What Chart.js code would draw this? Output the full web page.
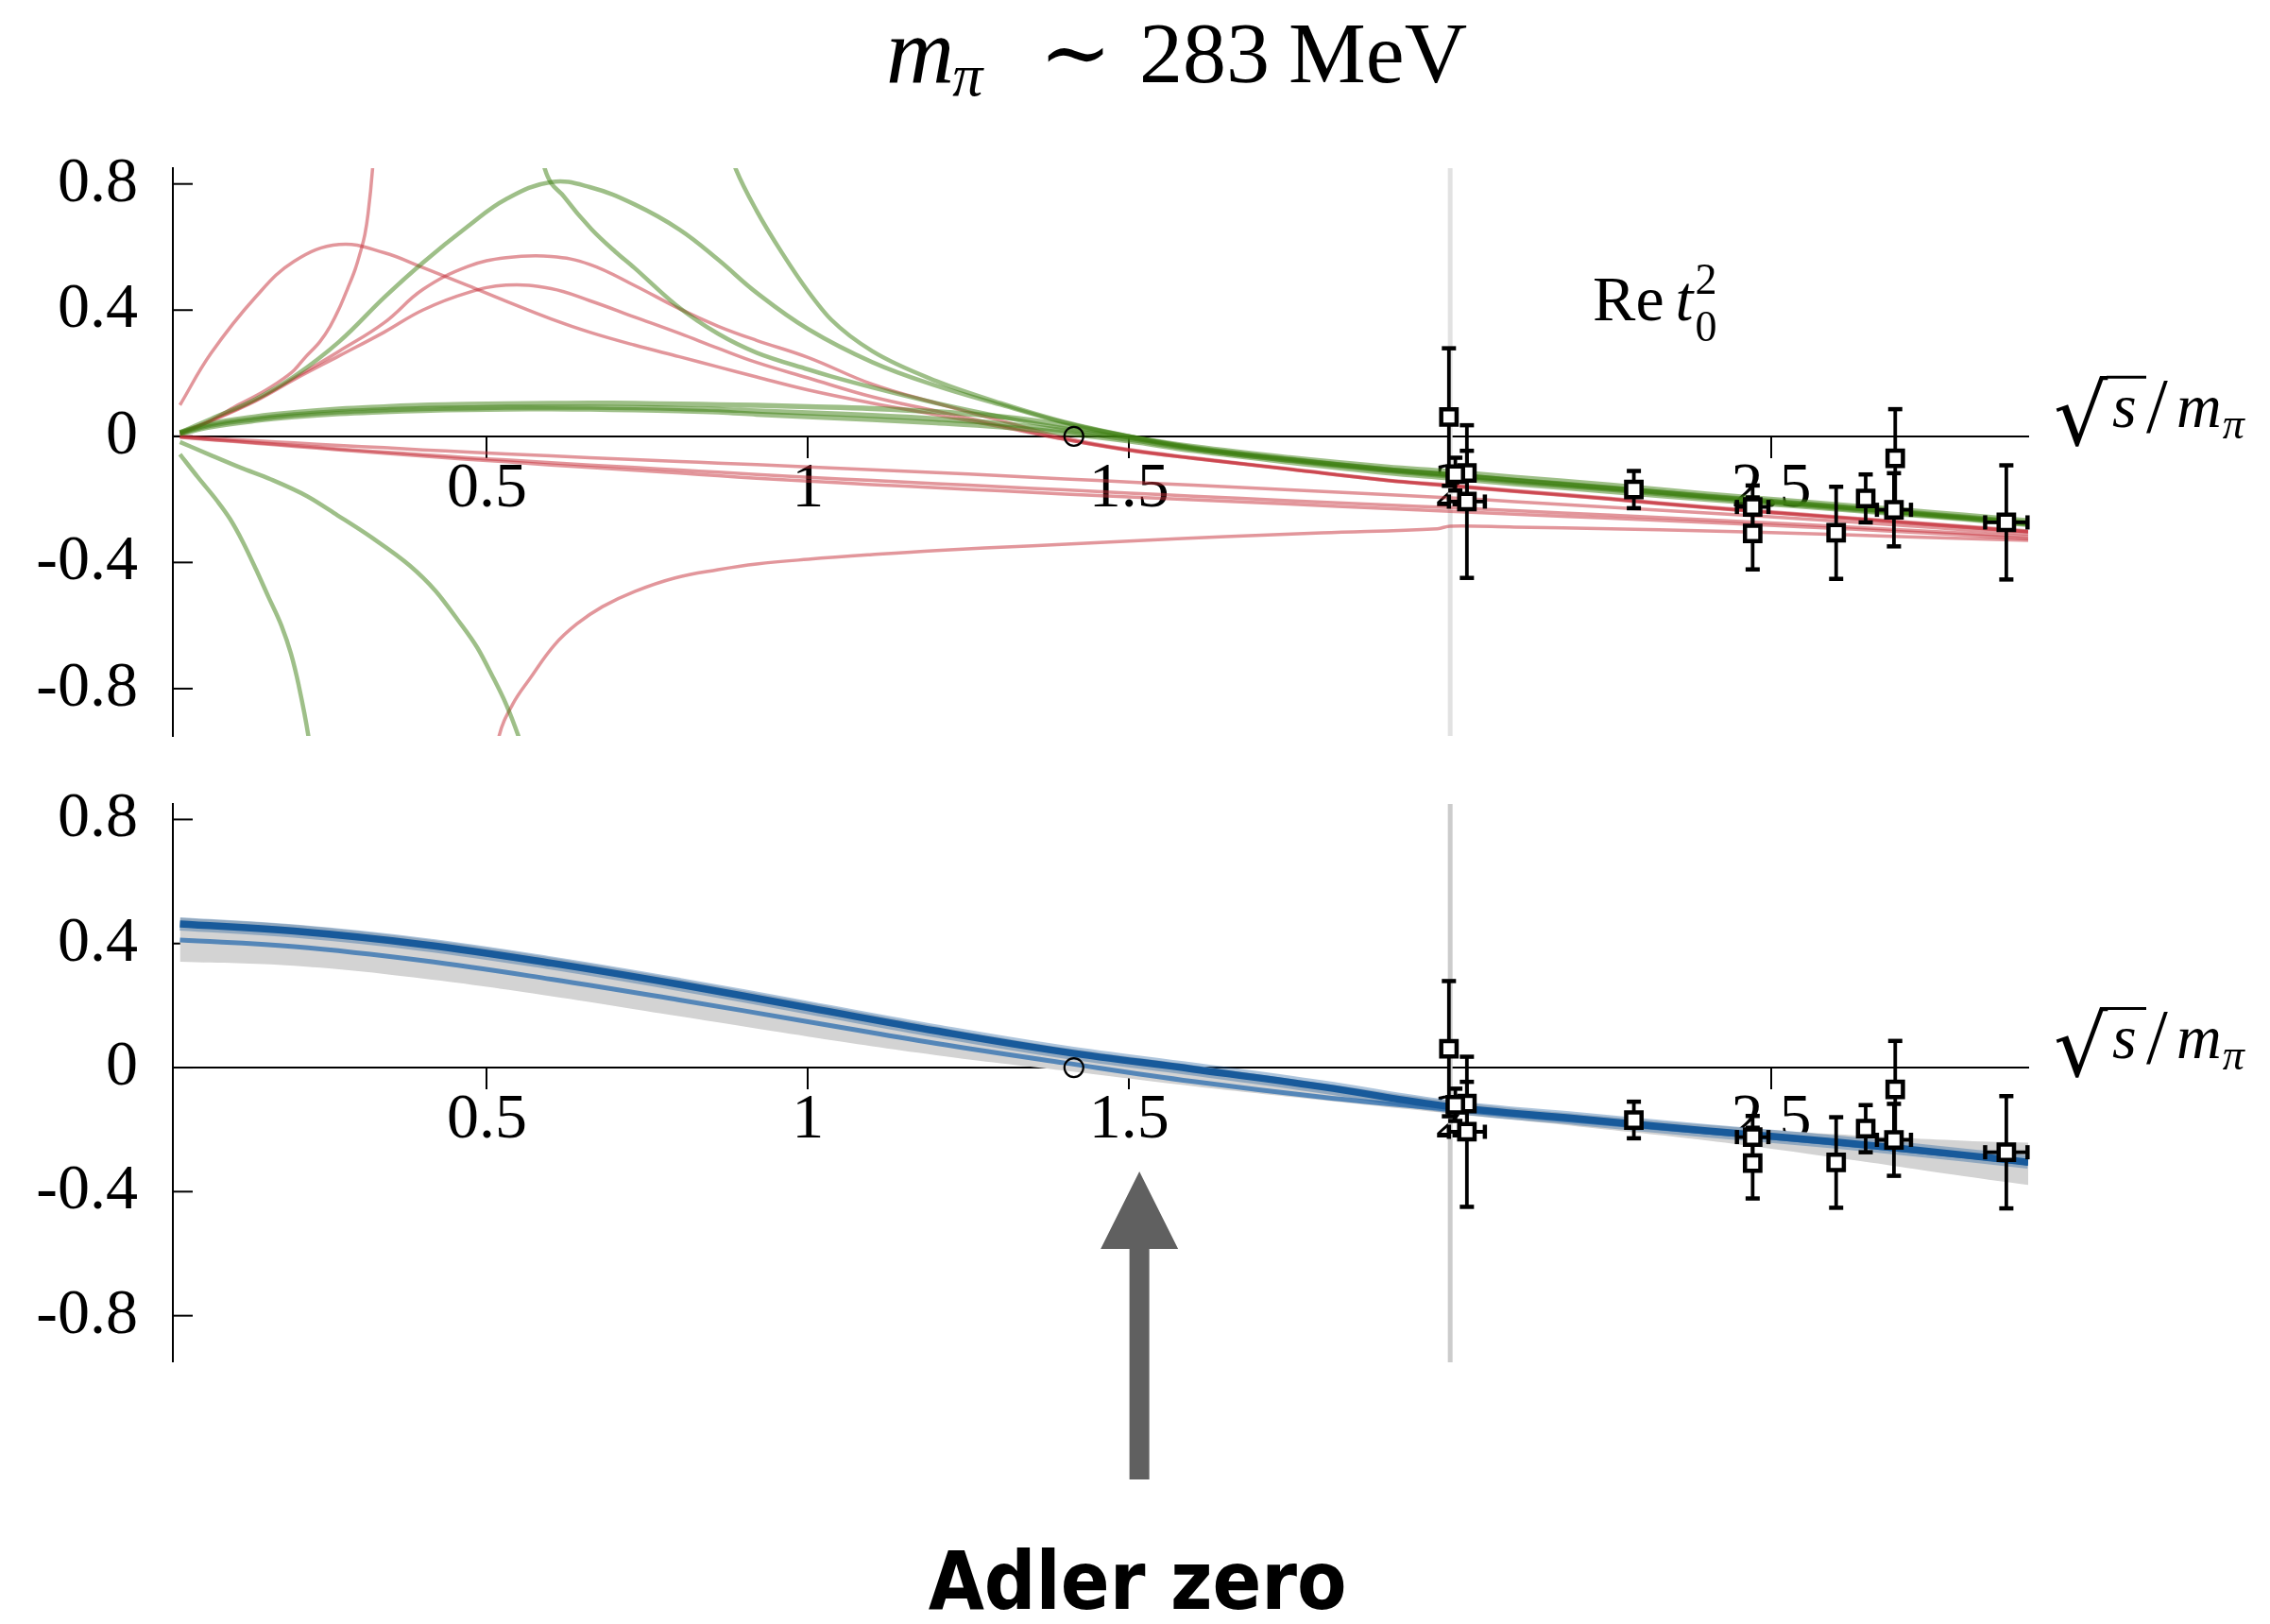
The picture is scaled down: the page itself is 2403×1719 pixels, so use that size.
<!DOCTYPE html>
<html>
<head>
<meta charset="utf-8">
<title>Re t02 at m_pi ~ 283 MeV</title>
<script src="https://cdn.jsdelivr.net/npm/chart.js@4.4.1/dist/chart.umd.min.js"></script>
<style>
  html, body { margin: 0; padding: 0; background: #ffffff; }
  #page { position: relative; width: 2403px; height: 1719px; overflow: hidden; background: #ffffff; }
  #upper { position: absolute; left: 0; top: 0; }
  #lower { position: absolute; left: 0; top: 780px; }
</style>
</head>
<body>
<div id="page">
  <canvas id="upper" width="2403" height="850"></canvas>
  <canvas id="lower" width="2403" height="939"></canvas>
</div>
<script>
// ---------------- axis ticks ----------------
const xTickValues = [0.5, 1, 1.5, 2, 2.5];
const xTickLabels = ['0.5', '1', '1.5', '2', '2.5'];
const yTickValues = [0.8, 0.4, 0, -0.4, -0.8];
const yTickLabels = ['0.8', '0.4', '0', '-0.4', '-0.8'];

// ---------------- upper panel: individual fits ----------------
const sGrid = [0.022, 0.07, 0.14, 0.2, 0.27, 0.34, 0.4, 0.47, 0.53, 0.6, 0.66, 0.73, 0.8, 0.86, 0.92, 1.0,
               1.1, 1.2, 1.3, 1.4, 1.5, 1.6, 1.75, 1.9, 2.0, 2.1, 2.25, 2.4, 2.55, 2.7, 2.8, 2.9];

const greenPeak  = [0.012, 0.055, 0.118, 0.19, 0.30, 0.44, 0.55, 0.665, 0.752, 0.806, 0.79, 0.735, 0.655, 0.56, 0.455, 0.34,
                    0.235, 0.16, 0.1, 0.043, 0.0, -0.035, -0.072, -0.104, -0.12, -0.138, -0.162, -0.19, -0.214, -0.24, -0.257, -0.275];
const greenFlat1 = [0.012, 0.04, 0.062, 0.075, 0.086, 0.093, 0.098, 0.101, 0.103, 0.104, 0.105, 0.104, 0.102, 0.1, 0.098, 0.094,
                    0.088, 0.078, 0.062, 0.035, -0.002, -0.033, -0.068, -0.097, -0.112, -0.13, -0.155, -0.183, -0.208, -0.233, -0.25, -0.268];
const greenFlat2 = [0.01, 0.035, 0.055, 0.068, 0.078, 0.084, 0.088, 0.09, 0.092, 0.092, 0.092, 0.091, 0.088, 0.085, 0.08, 0.074,
                    0.066, 0.055, 0.04, 0.018, -0.01, -0.04, -0.075, -0.105, -0.122, -0.14, -0.165, -0.19, -0.214, -0.239, -0.256, -0.274];
const greenFlat3 = [0.008, 0.03, 0.05, 0.062, 0.072, 0.078, 0.082, 0.085, 0.086, 0.087, 0.086, 0.084, 0.081, 0.077, 0.07, 0.062,
                    0.053, 0.043, 0.03, 0.01, -0.015, -0.045, -0.082, -0.115, -0.132, -0.15, -0.175, -0.2, -0.222, -0.246, -0.262, -0.28];

const redPeak1 = [0.099, 0.262, 0.442, 0.555, 0.608, 0.582, 0.535, 0.478, 0.428, 0.372, 0.33, 0.289, 0.252, 0.22, 0.188, 0.147,
                  0.105, 0.068, 0.03, -0.01, -0.045, -0.07, -0.105, -0.14, -0.158, -0.175, -0.2, -0.227, -0.25, -0.273, -0.288, -0.303];
const redPeak2 = [0.01, 0.05, 0.115, 0.185, 0.27, 0.36, 0.465, 0.538, 0.566, 0.57, 0.545, 0.478, 0.404, 0.349, 0.304, 0.25,
                  0.165, 0.105, 0.05, -0.005, -0.042, -0.068, -0.103, -0.138, -0.155, -0.172, -0.197, -0.224, -0.247, -0.27, -0.285, -0.3];
const redPeak3 = [0.01, 0.048, 0.112, 0.18, 0.255, 0.33, 0.4, 0.455, 0.479, 0.468, 0.43, 0.378, 0.326, 0.279, 0.234, 0.185,
                  0.125, 0.08, 0.035, -0.01, -0.044, -0.07, -0.105, -0.14, -0.157, -0.174, -0.199, -0.226, -0.249, -0.272, -0.287, -0.302];
const redFlat1 = [0, -0.006, -0.014, -0.021, -0.029, -0.036, -0.043, -0.05, -0.056, -0.062, -0.068, -0.074, -0.08, -0.085, -0.09, -0.097,
                  -0.106, -0.115, -0.125, -0.135, -0.145, -0.155, -0.17, -0.185, -0.195, -0.207, -0.225, -0.243, -0.262, -0.282, -0.296, -0.31];
const redFlat2 = [-0.002, -0.01, -0.02, -0.029, -0.04, -0.05, -0.058, -0.068, -0.075, -0.084, -0.091, -0.099, -0.107, -0.114, -0.121, -0.13,
                  -0.14, -0.15, -0.16, -0.17, -0.18, -0.19, -0.204, -0.218, -0.226, -0.236, -0.25, -0.265, -0.28, -0.296, -0.307, -0.318];
const redFlat3 = [-0.003, -0.011, -0.022, -0.032, -0.043, -0.054, -0.063, -0.073, -0.081, -0.091, -0.099, -0.108, -0.117, -0.125, -0.133, -0.142,
                  -0.153, -0.163, -0.173, -0.183, -0.192, -0.201, -0.215, -0.229, -0.238, -0.247, -0.26, -0.273, -0.287, -0.302, -0.313, -0.325];

// fits with a pole below threshold: branch before and branch after
const redRiseX = [0.022, 0.07, 0.105, 0.14, 0.171, 0.2, 0.217, 0.24, 0.256, 0.27, 0.283, 0.295, 0.302, 0.31, 0.315, 0.322, 0.33];
const redRiseY = [0.005, 0.05, 0.091, 0.128, 0.166, 0.21, 0.25, 0.3, 0.349, 0.405, 0.468, 0.53, 0.577, 0.64, 0.706, 0.849, 1.1];
const redReturnX = [0.51, 0.519, 0.54, 0.567, 0.605, 0.64, 0.68, 0.73, 0.793, 0.86, 0.92, 1.0, 1.1, 1.2, 1.35, 1.5, 1.65, 1.8,
                    1.98, 2.0, 2.1, 2.25, 2.4, 2.55, 2.7, 2.9];
const redReturnY = [-1.1, -0.95, -0.85, -0.768, -0.662, -0.595, -0.54, -0.492, -0.449, -0.423, -0.405, -0.39, -0.375, -0.362, -0.347, -0.332, -0.318, -0.306,
                    -0.293, -0.285, -0.288, -0.293, -0.3, -0.308, -0.318, -0.33];

const greenDropX = [0.022, 0.05, 0.08, 0.1, 0.12, 0.14, 0.16, 0.18, 0.195, 0.207, 0.222, 0.235];
const greenDropY = [-0.057, -0.13, -0.205, -0.262, -0.335, -0.42, -0.51, -0.6, -0.69, -0.79, -0.95, -1.15];
const greenReturnX = [0.875, 0.888, 0.92, 0.96, 1.0, 1.036, 1.1, 1.2, 1.3, 1.4, 1.5, 1.6, 1.75, 1.9, 2.0, 2.1, 2.25, 2.4, 2.55, 2.7, 2.8, 2.9];
const greenReturnY = [0.92, 0.845, 0.715, 0.58, 0.46, 0.37, 0.27, 0.175, 0.105, 0.045, 0.0, -0.037, -0.073, -0.106, -0.123, -0.14, -0.165, -0.192, -0.216, -0.241, -0.258, -0.276];

const greenDrop2X = [0.022, 0.07, 0.117, 0.164, 0.22, 0.267, 0.32, 0.38, 0.42, 0.455, 0.485, 0.5075, 0.53, 0.549, 0.565];
const greenDrop2Y = [-0.018, -0.06, -0.10, -0.137, -0.19, -0.25, -0.32, -0.41, -0.49, -0.583, -0.67, -0.756, -0.85, -0.95, -1.05];
const greenReturn2X = [0.58, 0.59, 0.62, 0.663, 0.7, 0.729, 0.795, 0.86, 0.92, 1.0, 1.036, 1.1, 1.2, 1.3, 1.4, 1.5, 1.6, 1.75, 1.9,
                       2.0, 2.1, 2.25, 2.4, 2.55, 2.7, 2.8, 2.9];
const greenReturn2Y = [0.95, 0.849, 0.76, 0.656, 0.585, 0.535, 0.415, 0.325, 0.265, 0.212, 0.19, 0.155, 0.105, 0.062, 0.025, -0.005, -0.04, -0.078, -0.11,
                       -0.128, -0.146, -0.17, -0.196, -0.22, -0.245, -0.261, -0.279];

// ---------------- lower panel: combined fit ----------------
const bGrid      = [0.022, 0.2, 0.4, 0.6, 0.8, 1.0, 1.2, 1.4, 1.6, 1.8, 2.0, 2.2, 2.4, 2.6, 2.8, 2.9];
const blueFit    = [0.463, 0.44, 0.397, 0.337, 0.268, 0.193, 0.118, 0.05, -0.005, -0.062, -0.126, -0.165, -0.204, -0.24, -0.282, -0.305];
const blueFitAlt = [0.411, 0.39, 0.345, 0.285, 0.218, 0.148, 0.078, 0.015, -0.045, -0.095, -0.135, -0.172, -0.208, -0.244, -0.285, -0.308];
const bandHi     = [0.483, 0.46, 0.415, 0.355, 0.285, 0.21, 0.133, 0.064, 0.008, -0.05, -0.108, -0.15, -0.185, -0.215, -0.236, -0.242];
const bandLo     = [0.341, 0.328, 0.287, 0.23, 0.165, 0.1, 0.04, -0.01, -0.06, -0.105, -0.148, -0.19, -0.235, -0.29, -0.35, -0.378];

// ---------------- lattice energy levels ----------------
const latticeX    = [1.998, 2.026, 2.026, 2.008, 2.286, 2.471, 2.471, 2.601, 2.647, 2.693, 2.691, 2.866];
const latticeY    = [0.061, -0.116, -0.207, -0.12, -0.169, -0.224, -0.308, -0.306, -0.197, -0.07, -0.233, -0.273];
const latticeErrY = [0.218, 0.07, 0.242, 0.052, 0.059, 0.068, 0.114, 0.146, 0.076, 0.156, 0.116, 0.181];
const latticeErrX = [0, 0, 0.028, 0, 0, 0.0245, 0, 0, 0, 0, 0.0265, 0.033];

// leading-order Adler zero (sqrt 2), threshold, and the marked zero of the fit
const adlerLOX = [1.414];
const adlerLOY = [0];
const thresholdAt = 2;
const adlerArrowAt = 1.516;

// ---------------- styling ----------------
const SERIF = "'Liberation Serif', 'DejaVu Serif', serif";
const RED = 'rgba(198, 46, 56, 0.5)';
const GREEN = 'rgba(62, 128, 18, 0.5)';

const pts = (xs, ys) => xs.map((x, i) => ({ x: x, y: ys[i] }));

function curve(xs, ys, color, width, order, monotone) {
  const ds = {
    data: pts(xs, ys), borderColor: color, borderWidth: width,
    pointRadius: 0, pointHoverRadius: 0, fill: false,
    tension: 0.4, capBezierPoints: false, clip: 0, order: order,
    borderCapStyle: 'butt', borderJoinStyle: 'round'
  };
  if (monotone) ds.cubicInterpolationMode = 'monotone';
  return ds;
}

function latticeSet() {
  return {
    data: pts(latticeX, latticeY), errY: latticeErrY, errX: latticeErrX,
    showLine: false, pointStyle: 'rect', pointRadius: 11.5, pointHoverRadius: 11.5,
    pointBorderWidth: 4.5, pointBackgroundColor: '#ffffff', pointBorderColor: '#000000',
    order: 0, clip: false
  };
}

function loZeroSet() {
  return {
    data: pts(adlerLOX, adlerLOY), showLine: false, pointStyle: 'circle',
    pointRadius: 10, pointHoverRadius: 10, pointBorderWidth: 2.2,
    pointBackgroundColor: 'rgba(0,0,0,0)', pointBorderColor: '#000000', order: 1
  };
}

function scalesConfig() {
  return {
    x: {
      type: 'linear', min: 0.011, max: 2.9, position: { y: 0 },
      afterBuildTicks: (s) => { s.ticks = xTickValues.map(v => ({ value: v })); },
      ticks: {
        autoSkip: false, maxRotation: 0, padding: 0, color: '#000',
        font: { family: SERIF, size: 68, lineHeight: 1 },
        callback: (v, i) => xTickLabels[i]
      },
      grid: { display: true, drawOnChartArea: false, drawTicks: true, tickLength: 22,
              tickColor: '#000', tickWidth: 2, color: '#000', lineWidth: 2 },
      border: { display: true, color: '#000', width: 2 }
    },
    y: {
      type: 'linear', min: -0.95, max: 0.85, position: 'left',
      afterFit: (s) => { s.width = 183; },
      afterBuildTicks: (s) => { s.ticks = yTickValues.map(v => ({ value: v })); },
      ticks: {
        autoSkip: false, padding: 37, color: '#000',
        font: { family: SERIF, size: 68, lineHeight: 1 },
        callback: (v, i) => yTickLabels[i]
      },
      grid: { display: false, drawTicks: false },
      border: { display: true, color: '#000', width: 2 }
    }
  };
}

// ---------------- plugins ----------------
function line(ctx, x1, y1, x2, y2) {
  ctx.beginPath(); ctx.moveTo(x1, y1); ctx.lineTo(x2, y2); ctx.stroke();
}

const errorBars = {
  id: 'errorBars',
  beforeDatasetDraw(chart, args) {
    const ds = chart.data.datasets[args.index];
    if (!ds.errY) return;
    const ctx = chart.ctx, xs = chart.scales.x, ys = chart.scales.y;
    ctx.save();
    ctx.strokeStyle = '#000';
    ds.data.forEach((p, i) => {
      const px = xs.getPixelForValue(p.x), py = ys.getPixelForValue(p.y);
      const ey = ds.errY[i], ex = ds.errX[i];
      if (ey) {
        const t = ys.getPixelForValue(p.y + ey), b = ys.getPixelForValue(p.y - ey);
        ctx.lineWidth = 3.8; line(ctx, px, t, px, b);
        ctx.lineWidth = 4.5; line(ctx, px - 7.5, t, px + 7.5, t); line(ctx, px - 7.5, b, px + 7.5, b);
      }
      if (ex) {
        const l = xs.getPixelForValue(p.x - ex), r = xs.getPixelForValue(p.x + ex);
        ctx.lineWidth = 3.8; line(ctx, l, py, r, py);
        ctx.lineWidth = 4.5; line(ctx, l, py - 7.5, l, py + 7.5); line(ctx, r, py - 7.5, r, py + 7.5);
      }
    });
    ctx.restore();
  }
};

function axisExtras(lineColor) {
  return {
    id: 'axisExtras',
    beforeDatasetsDraw(chart) {
      const ctx = chart.ctx, a = chart.chartArea, xs = chart.scales.x, ys = chart.scales.y;
      ctx.save();
      // threshold marker
      const tx = xs.getPixelForValue(thresholdAt);
      ctx.strokeStyle = lineColor; ctx.lineWidth = 5;
      line(ctx, tx, a.top, tx, a.bottom);
      // inward ticks on the vertical axis
      ctx.strokeStyle = '#000'; ctx.lineWidth = 2;
      ys.ticks.forEach(t => {
        const py = ys.getPixelForValue(t.value);
        line(ctx, a.left, py, a.left + 21, py);
      });
      ctx.restore();
    }
  };
}

function text(ctx, t, x, y, size, italic, family) {
  ctx.font = (italic ? 'italic ' : '') + size + 'px ' + (family || SERIF);
  ctx.fillText(t, x, y);
  return x + ctx.measureText(t).width;
}

function drawEnergyLabel(chart) {
  const ctx = chart.ctx, a = chart.chartArea, z = chart.scales.y.getPixelForValue(0);
  const x0 = a.right + 27;
  ctx.save();
  ctx.fillStyle = '#000'; ctx.strokeStyle = '#000';
  ctx.textAlign = 'left'; ctx.textBaseline = 'alphabetic';
  // radical sign + rule over s
  ctx.font = '90px ' + "'DejaVu Serif', serif";
  const m = ctx.measureText('\u221A');
  const top = z - 64;
  const base = top + m.actualBoundingBoxAscent;
  ctx.fillText('\u221A', x0, base);
  const rx = x0 + m.actualBoundingBoxRight - 2;
  ctx.lineWidth = 3;
  line(ctx, rx, top + 1.5, rx + 42, top + 1.5);
  text(ctx, 's', rx + 6, z - 10, 66, true);
  text(ctx, '/', rx + 42, z - 5, 82, false);
  const me = text(ctx, 'm', rx + 74, z - 10, 66, true);
  text(ctx, '\u03C0', me + 1, z + 2, 46, true);
  ctx.restore();
}

const upperText = {
  id: 'upperText',
  afterDraw(chart) {
    const ctx = chart.ctx, xs = chart.scales.x, ys = chart.scales.y;
    ctx.save();
    ctx.fillStyle = '#000'; ctx.textAlign = 'left'; ctx.textBaseline = 'alphabetic';
    // panel heading
    const mEnd = text(ctx, 'm', 938, 87, 100, true);
    text(ctx, '\u03C0', mEnd - 2, 101, 64, true);
    text(ctx, '\u223C', 1100, 87, 92, false, "'DejaVu Serif', serif");
    text(ctx, '283', 1206, 87, 92, false);
    text(ctx, 'MeV', 1364, 87, 92, false);
    // Re t_0^2
    const lx = xs.getPixelForValue(2.222), ly = ys.getPixelForValue(0.368);
    const reEnd = text(ctx, 'Re', lx, ly, 68, false);
    const tEnd = text(ctx, 't', reEnd + 12, ly, 68, true);
    text(ctx, '2', tEnd + 2, ly - 28, 46, false);
    text(ctx, '0', tEnd + 2, ly + 22, 46, false);
    ctx.restore();
    drawEnergyLabel(chart);
  }
};

const lowerText = {
  id: 'lowerText',
  afterDraw(chart) {
    const ctx = chart.ctx, xs = chart.scales.x, a = chart.chartArea;
    drawEnergyLabel(chart);
    // arrow towards the Adler zero of the combined fit
    const ax = xs.getPixelForValue(adlerArrowAt);
    const tip = a.bottom + 460 - 662, headBase = tip + 82, shaftEnd = tip + 326;
    ctx.save();
    ctx.fillStyle = '#606060';
    ctx.beginPath();
    ctx.moveTo(ax, tip);
    ctx.lineTo(ax + 41, headBase);
    ctx.lineTo(ax + 10.5, headBase);
    ctx.lineTo(ax + 10.5, shaftEnd);
    ctx.lineTo(ax - 10.5, shaftEnd);
    ctx.lineTo(ax - 10.5, headBase);
    ctx.lineTo(ax - 41, headBase);
    ctx.closePath();
    ctx.fill();
    ctx.fillStyle = '#000';
    ctx.textAlign = 'center'; ctx.textBaseline = 'alphabetic';
    ctx.font = "bold 85px 'DejaVu Sans Condensed', 'DejaVu Sans', sans-serif";
    ctx.fillText('Adler zero', ax - 2, tip + 463);
    ctx.restore();
  }
};

const common = {
  responsive: false, animation: false, devicePixelRatio: 1, events: [],
  plugins: { legend: { display: false }, tooltip: { enabled: false }, title: { display: false } }
};

// ---------------- upper chart ----------------
new Chart(document.getElementById('upper'), {
  type: 'line',
  data: {
    datasets: [
      latticeSet(),
      loZeroSet(),
      curve(sGrid, greenPeak, GREEN, 4.5, 2),
      curve(sGrid, greenFlat1, GREEN, 5.5, 2),
      curve(sGrid, greenFlat2, GREEN, 5.5, 2),
      curve(sGrid, greenFlat3, GREEN, 5.5, 2),
      curve(greenDropX, greenDropY, GREEN, 4.5, 2, true),
      curve(greenReturnX, greenReturnY, GREEN, 4.5, 2, true),
      curve(greenDrop2X, greenDrop2Y, GREEN, 4.5, 2, true),
      curve(greenReturn2X, greenReturn2Y, GREEN, 4.5, 2, true),
      curve(sGrid, redPeak1, RED, 3.5, 3),
      curve(sGrid, redPeak2, RED, 3.5, 3),
      curve(sGrid, redPeak3, RED, 3.5, 3),
      curve(sGrid, redFlat1, RED, 3.5, 3),
      curve(sGrid, redFlat2, RED, 3.5, 3),
      curve(sGrid, redFlat3, RED, 3.5, 3),
      curve(redRiseX, redRiseY, RED, 3.5, 3, true),
      curve(redReturnX, redReturnY, RED, 3.5, 3)
    ]
  },
  options: Object.assign({}, common, {
    layout: { padding: { left: 0, right: 256, top: 178, bottom: 66.6 } },
    scales: scalesConfig()
  }),
  plugins: [errorBars, axisExtras('#e2e2e2'), upperText]
});

// ---------------- lower chart ----------------
new Chart(document.getElementById('lower'), {
  type: 'line',
  data: {
    datasets: [
      latticeSet(),
      loZeroSet(),
      curve(bGrid, blueFit, 'rgb(24, 90, 155)', 7.5, 2),
      curve(bGrid, blueFit, 'rgba(24, 90, 155, 0.35)', 14, 3),
      curve(bGrid, blueFitAlt, 'rgb(84, 134, 184)', 5, 4),
      Object.assign(curve(bGrid, bandHi, 'rgba(0,0,0,0)', 0, 5), { fill: '+1', backgroundColor: '#d3d3d3' }),
      curve(bGrid, bandLo, 'rgba(0,0,0,0)', 0, 6)
    ]
  },
  options: Object.assign({}, common, {
    layout: { padding: { left: 0, right: 256, top: 56.4, bottom: 277.1 } },
    scales: scalesConfig()
  }),
  plugins: [errorBars, axisExtras('#cccccc'), lowerText]
});
</script>
</body>
</html>
